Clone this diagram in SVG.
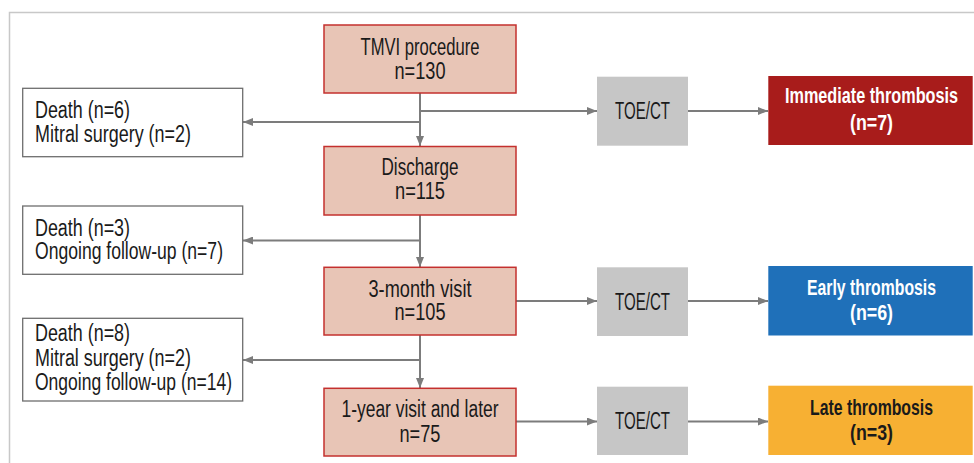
<svg xmlns="http://www.w3.org/2000/svg" width="974" height="463" viewBox="0 0 974 463">
<style>
  text { font-family: "Liberation Sans Narrow", "Liberation Sans", Arial, sans-serif; font-size: 23px; fill: #1a1a1a; }
  .c { text-anchor: middle; }
  .b { font-weight: bold; font-size: 22px; fill: #ffffff; }
  .bk { font-weight: bold; font-size: 22px; fill: #1a1a1a; }
  .step { fill: #e8c5b6; stroke: #c4302e; stroke-width: 1.5; }
  .side { fill: #ffffff; stroke: #6e6e6e; stroke-width: 1.3; }
  .img { fill: #c6c6c6; }
  .conn { stroke: #7c7c7c; stroke-width: 2; fill: none; }
  .frame { fill: none; stroke: #c8c8c8; stroke-width: 1.5; }
</style>
<defs>
  <marker id="ah" markerUnits="userSpaceOnUse" markerWidth="10" markerHeight="8" refX="10" refY="4" orient="auto">
    <path d="M0,0 L10,4 L0,8 z" fill="#7c7c7c"/>
  </marker>
</defs>
<rect x="0" y="0" width="974" height="463" fill="#ffffff"/>
<rect class="frame" x="9.5" y="12.5" width="1000" height="500"/>

<g id="connectors">
  <path class="conn" d="M420,93 V146" marker-end="url(#ah)"/>
  <path class="conn" d="M420,111 H597" marker-end="url(#ah)"/>
  <path class="conn" d="M688,111 H768" marker-end="url(#ah)"/>
  <path class="conn" d="M420,122 H243" marker-end="url(#ah)"/>
  <path class="conn" d="M420,215 V267" marker-end="url(#ah)"/>
  <path class="conn" d="M420,240.5 H243" marker-end="url(#ah)"/>
  <path class="conn" d="M516,301 H597" marker-end="url(#ah)"/>
  <path class="conn" d="M688,301 H768" marker-end="url(#ah)"/>
  <path class="conn" d="M420,335 V388" marker-end="url(#ah)"/>
  <path class="conn" d="M420,360 H243" marker-end="url(#ah)"/>
  <path class="conn" d="M516,421.5 H597" marker-end="url(#ah)"/>
  <path class="conn" d="M688,421.5 H768" marker-end="url(#ah)"/>
</g>

<g id="tmvi">
  <rect class="step" x="324" y="25" width="192" height="68"/>
  <text class="c" x="420" y="55" textLength="119" lengthAdjust="spacingAndGlyphs">TMVI procedure</text>
  <text class="c" x="420" y="78.5" textLength="51" lengthAdjust="spacingAndGlyphs">n=130</text>
</g>
<g id="discharge">
  <rect class="step" x="324" y="146.5" width="192" height="68.5"/>
  <text class="c" x="420" y="175" textLength="77" lengthAdjust="spacingAndGlyphs">Discharge</text>
  <text class="c" x="420" y="199" textLength="50" lengthAdjust="spacingAndGlyphs">n=115</text>
</g>
<g id="month3">
  <rect class="step" x="324" y="267.3" width="192" height="67.7"/>
  <text class="c" x="420" y="296.7" textLength="103" lengthAdjust="spacingAndGlyphs">3-month visit</text>
  <text class="c" x="420" y="320" textLength="51" lengthAdjust="spacingAndGlyphs">n=105</text>
</g>
<g id="year1">
  <rect class="step" x="324" y="388.3" width="192" height="67.7"/>
  <text class="c" x="420" y="417.3" textLength="157" lengthAdjust="spacingAndGlyphs">1-year visit and later</text>
  <text class="c" x="420" y="441.5" textLength="41" lengthAdjust="spacingAndGlyphs">n=75</text>
</g>

<g id="exit1">
  <rect class="side" x="22.7" y="88.3" width="220" height="68.4"/>
  <text x="35" y="118.3" textLength="95" lengthAdjust="spacingAndGlyphs">Death (n=6)</text>
  <text x="35" y="141.7" textLength="156" lengthAdjust="spacingAndGlyphs">Mitral surgery (n=2)</text>
</g>
<g id="exit2">
  <rect class="side" x="22.7" y="206" width="220" height="68.3"/>
  <text x="35" y="235.7" textLength="95" lengthAdjust="spacingAndGlyphs">Death (n=3)</text>
  <text x="35" y="259" textLength="188" lengthAdjust="spacingAndGlyphs">Ongoing follow-up (n=7)</text>
</g>
<g id="exit3">
  <rect class="side" x="22.7" y="318.3" width="220" height="82.7"/>
  <text x="35" y="341" textLength="95" lengthAdjust="spacingAndGlyphs">Death (n=8)</text>
  <text x="35" y="365.5" textLength="156" lengthAdjust="spacingAndGlyphs">Mitral surgery (n=2)</text>
  <text x="35" y="390" textLength="197" lengthAdjust="spacingAndGlyphs">Ongoing follow-up (n=14)</text>
</g>

<g id="toe1">
  <rect class="img" x="597" y="76.7" width="91" height="69"/>
  <text class="c" x="642.5" y="119.3" textLength="55" lengthAdjust="spacingAndGlyphs">TOE/CT</text>
</g>
<g id="toe2">
  <rect class="img" x="597" y="267.3" width="91" height="68.7"/>
  <text class="c" x="642.5" y="309.5" textLength="55" lengthAdjust="spacingAndGlyphs">TOE/CT</text>
</g>
<g id="toe3">
  <rect class="img" x="597" y="386.7" width="91" height="68.3"/>
  <text class="c" x="642.5" y="429.3" textLength="55" lengthAdjust="spacingAndGlyphs">TOE/CT</text>
</g>

<g id="immediate">
  <rect x="768.3" y="76" width="204.4" height="69" fill="#a81c1b"/>
  <text class="c b" x="871.5" y="103.3" textLength="173" lengthAdjust="spacingAndGlyphs">Immediate thrombosis</text>
  <text class="c b" x="871.5" y="130" textLength="43" lengthAdjust="spacingAndGlyphs">(n=7)</text>
</g>
<g id="early">
  <rect x="768.3" y="266" width="204.4" height="69.5" fill="#1f70b9"/>
  <text class="c b" x="871.5" y="295" textLength="129" lengthAdjust="spacingAndGlyphs">Early thrombosis</text>
  <text class="c b" x="871.5" y="320" textLength="43" lengthAdjust="spacingAndGlyphs">(n=6)</text>
</g>
<g id="late">
  <rect x="768.3" y="385.7" width="204.4" height="69.3" fill="#f7b033"/>
  <text class="c bk" x="871.5" y="415" textLength="123" lengthAdjust="spacingAndGlyphs">Late thrombosis</text>
  <text class="c bk" x="871.5" y="440" textLength="43" lengthAdjust="spacingAndGlyphs">(n=3)</text>
</g>
</svg>
